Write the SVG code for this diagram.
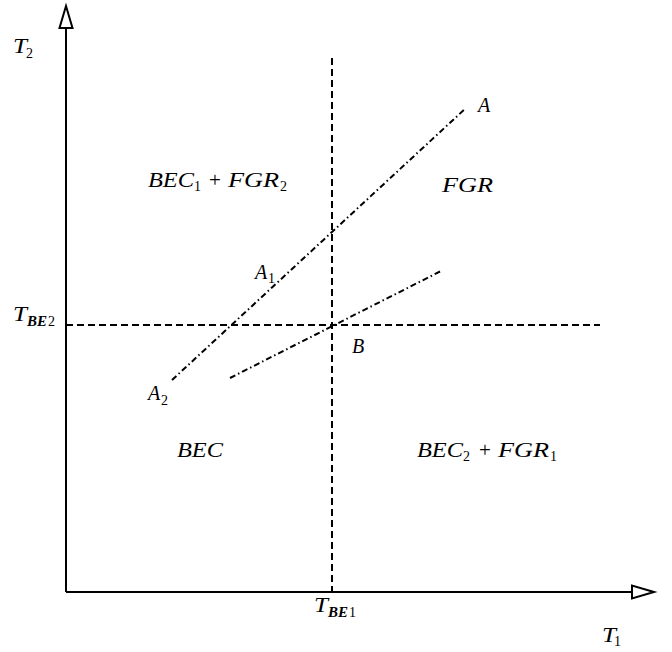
<svg xmlns="http://www.w3.org/2000/svg" width="672" height="652" viewBox="0 0 672 652">
<style>
.ax{stroke:#000;stroke-width:2;fill:none}
.dash{stroke:#000;stroke-width:2;fill:none;stroke-dasharray:7 4}
.dd{stroke:#000;stroke-width:2;fill:none;stroke-dasharray:6 3 1.5 3}
.m{font-family:"Liberation Serif","DejaVu Serif",serif;font-style:italic;font-size:20px;fill:#000}
.s{font-family:"Liberation Serif","DejaVu Serif",serif;font-size:14px;fill:#000}
.si{font-family:"Liberation Serif","DejaVu Serif",serif;font-style:italic;font-weight:bold;font-size:14px;fill:#000}
.op{font-family:"Liberation Serif","DejaVu Serif",serif;font-size:21px;fill:#000}
</style>
<rect width="672" height="652" fill="#fff"/>
<g id="connectors">
<line class="ax" x1="66" y1="592" x2="66" y2="28"/>
<polygon class="ax" points="66,6 72.5,28 59.5,28"/>
<line class="ax" x1="66" y1="592" x2="632" y2="592"/>
<polygon class="ax" points="654,592 632,585.5 632,598.5"/>
<line class="dash" x1="332" y1="58" x2="332" y2="592"/>
<line class="dash" x1="66" y1="325" x2="600" y2="325"/>
<line class="dd" x1="172" y1="380" x2="466" y2="108"/>
<line class="dd" x1="230" y1="378" x2="441" y2="271"/>
</g>
<g id="label-T2"><text class="m" x="13" y="53" textLength="14" lengthAdjust="spacingAndGlyphs">T</text><text class="s" x="26" y="58">2</text></g>
<g id="label-TBE2"><text class="m" x="13" y="321" textLength="14" lengthAdjust="spacingAndGlyphs">T</text><text class="si" x="27" y="326" textLength="20" lengthAdjust="spacingAndGlyphs">BE</text><text class="s" x="48" y="326">2</text></g>
<g id="label-TBE1"><text class="m" x="314" y="612" textLength="14" lengthAdjust="spacingAndGlyphs">T</text><text class="si" x="328" y="617" textLength="20" lengthAdjust="spacingAndGlyphs">BE</text><text class="s" x="349" y="617">1</text></g>
<g id="label-T1"><text class="m" x="602" y="642" textLength="14" lengthAdjust="spacingAndGlyphs">T</text><text class="s" x="614" y="646">1</text></g>
<g id="label-A"><text class="m" x="478" y="112">A</text></g>
<g id="label-A1"><text class="m" x="255" y="279">A</text><text class="s" x="268" y="283">1</text></g>
<g id="label-A2"><text class="m" x="148" y="400">A</text><text class="s" x="161" y="405">2</text></g>
<g id="label-B"><text class="m" x="352" y="353">B</text></g>
<g id="region-FGR"><text class="m" x="442" y="192" textLength="51" lengthAdjust="spacingAndGlyphs">FGR</text></g>
<g id="region-BEC"><text class="m" x="177" y="457" textLength="46" lengthAdjust="spacingAndGlyphs">BEC</text></g>
<g id="region-BEC1FGR2">
<text class="m" x="148" y="187" textLength="46" lengthAdjust="spacingAndGlyphs">BEC</text><text class="s" x="194" y="191">1</text>
<text class="op" x="215" y="187" text-anchor="middle">+</text>
<text class="m" x="228" y="187" textLength="51" lengthAdjust="spacingAndGlyphs">FGR</text><text class="s" x="280" y="191">2</text>
</g>
<g id="region-BEC2FGR1">
<text class="m" x="417" y="457" textLength="46" lengthAdjust="spacingAndGlyphs">BEC</text><text class="s" x="463" y="461">2</text>
<text class="op" x="485" y="457" text-anchor="middle">+</text>
<text class="m" x="498" y="457" textLength="51" lengthAdjust="spacingAndGlyphs">FGR</text><text class="s" x="550" y="461">1</text>
</g>
</svg>
